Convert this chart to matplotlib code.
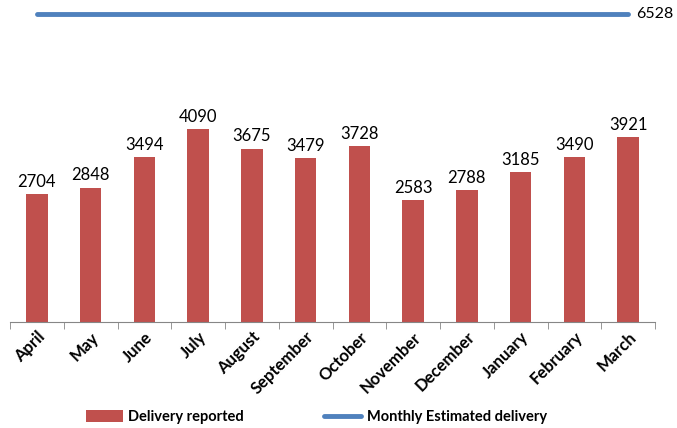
import matplotlib.pyplot as plt
import numpy as np

months = ["April", "May", "June", "July", "August", "September", "October",
          "November", "December", "January", "February", "March"]
reported = [2704, 2848, 3494, 4090, 3675, 3479, 3728, 2583, 2788, 3185, 3490, 3921]
estimated = [6528] * len(months)

plt.rcParams['font.family'] = ['Lato', 'DejaVu Sans']

fig = plt.figure(figsize=(6.77, 4.28), dpi=100)
ax = fig.add_axes([10 / 677, 106 / 428, 645 / 677, 317 / 428])

x = np.arange(len(months))
bars = ax.bar(x, reported, width=0.4, color="#C0504D", label="Delivery reported")
line, = ax.plot(x, estimated, color="#4F81BD", lw=3.5, solid_capstyle="round",
                label="Monthly Estimated delivery")

for xi, v in zip(x, reported):
    ax.text(xi, v + 90, str(v), ha="center", va="bottom", fontsize=12)
ax.text(x[-1] + 0.15, estimated[-1], str(estimated[-1]), ha="left", va="center",
        fontsize=11.5, clip_on=False)

ax.set_xlim(-0.5, len(months) - 0.5)
ax.set_ylim(0, 6720)
ax.set_yticks([])
for s in ["top", "right", "left"]:
    ax.spines[s].set_visible(False)
ax.spines["bottom"].set_color("#868686")

ax.set_xticks(x)
ax.set_xticklabels(months, rotation=45, ha="right", rotation_mode="anchor",
                   fontsize=12, fontweight="bold")
ax.tick_params(axis="x", length=0, pad=5)
ax.set_xticks(np.arange(len(months) + 1) - 0.5, minor=True)
ax.tick_params(axis="x", which="minor", length=5, color="#868686")

ax.legend([bars, line], ["Delivery reported", "Monthly Estimated delivery"],
          loc="center", bbox_to_anchor=(0.475, -0.30), ncol=2, frameon=False,
          prop={"weight": "bold", "size": 10.5}, handlelength=2.5, columnspacing=5.5,
          handleheight=0.8, handletextpad=0.4)

plt.savefig("out.png", dpi=100)
